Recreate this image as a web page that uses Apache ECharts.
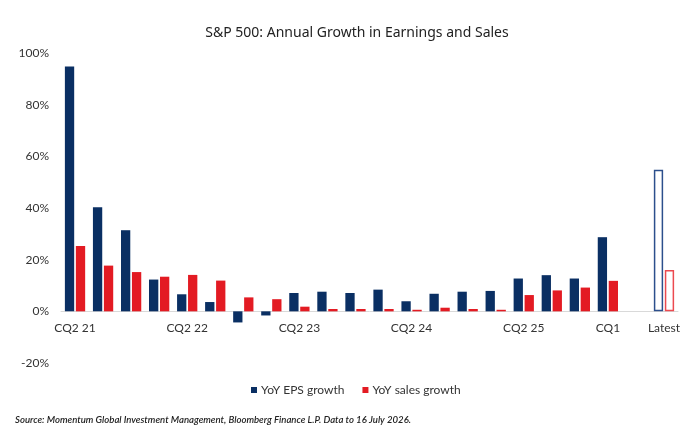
<!DOCTYPE html>
<html>
<head>
<meta charset="utf-8">
<script src="https://cdn.jsdelivr.net/npm/echarts@6/dist/echarts.min.js"></script>
<style>
  html, body { margin: 0; padding: 0; background: #fff; }
  #main { width: 700px; height: 435px; }
</style>
</head>
<body>
<div id="main"></div>
<script>
var categories = ['CQ2 21', 'CQ3 21', 'CQ4 21', 'CQ1 22', 'CQ2 22', 'CQ3 22', 'CQ4 22', 'CQ1 23',
  'CQ2 23', 'CQ3 23', 'CQ4 23', 'CQ1 24', 'CQ2 24', 'CQ3 24', 'CQ4 24', 'CQ1 25',
  'CQ2 25', 'CQ3 25', 'CQ4 25', 'CQ1 26', '', 'Latest'];
var tickLabels = ['CQ2 21', '', '', '', 'CQ2 22', '', '', '',
  'CQ2 23', '', '', '', 'CQ2 24', '', '', '',
  'CQ2 25', '', '', 'CQ1', '', 'Latest'];
var epsGrowth = [94.8, 40.3, 31.4, 12.3, 6.6, 3.6, -4.3, -1.6,
  7.1, 7.6, 7.1, 8.4, 3.9, 6.8, 7.6, 7.9,
  12.7, 14.0, 12.7, 28.7, null, 54.8];
var salesGrowth = [25.3, 17.7, 15.2, 13.4, 14.1, 11.9, 5.4, 4.7,
  1.8, 0.9, 0.9, 0.9, 0.6, 1.4, 0.9, 0.6,
  6.3, 8.1, 9.2, 11.8, null, 16.0];
var yTicks = { min: -20, max: 100, interval: 20 };

var navy = '#0a2f63';
var red = '#e31b23';

var gridTop = 53, gridBottom = 72;
var plotH = 435 - gridTop - gridBottom;
// move the category axis up so it sits on the 0% line
var zeroOffset = -plotH * (0 - yTicks.min) / (yTicks.max - yTicks.min);

// the "Latest" bars are drawn hollow
function withHollowLast(values, border) {
  return values.map(function (v, i) {
    if (categories[i] === 'Latest') {
      return { value: v, itemStyle: { color: '#fff', borderColor: border, borderWidth: 1.5 } };
    }
    return v;
  });
}

var myChart = echarts.init(document.getElementById('main'));

var option = {
  animation: false,
  textStyle: { fontFamily: 'Lato' },
  title: {
    text: 'S&P 500: Annual Growth in Earnings and Sales',
    left: 352, top: 21, textAlign: 'center',
    textStyle: { fontFamily: 'Noto Sans', fontSize: 14, fontWeight: 'normal', color: '#222' }
  },
  graphic: [{
    type: 'text', left: 15, top: 415,
    style: {
      text: 'Source: Momentum Global Investment Management, Bloomberg Finance L.P. Data to 16 July 2026.',
      font: 'italic 600 9.6px "Liberation Sans Narrow", Lato', fill: '#222'
    }
  }],
  legend: {
    data: ['YoY EPS growth', 'YoY sales growth'],
    left: 246, top: 379,
    icon: 'rect', itemWidth: 6, itemHeight: 6, itemGap: 18,
    textStyle: { fontSize: 12, color: '#333', padding: [0, 0, 0, -1] }
  },
  grid: { left: 61, right: 22, top: gridTop, bottom: gridBottom },
  xAxis: {
    type: 'category',
    data: categories,
    axisLine: { onZero: false, lineStyle: { color: '#d9d9d9' } },
    offset: zeroOffset,
    axisTick: { alignWithLabel: true, interval: 0, length: 5, lineStyle: { color: '#d9d9d9' } },
    axisLabel: {
      interval: 0, margin: 11, fontSize: 12, color: '#333',
      formatter: function (v, i) { return tickLabels[i]; }
    }
  },
  yAxis: {
    type: 'value',
    min: yTicks.min, max: yTicks.max, interval: yTicks.interval,
    splitLine: { show: false },
    axisLine: { show: false },
    axisTick: { show: false },
    axisLabel: { margin: 12, fontSize: 12, color: '#333', formatter: '{value}%' }
  },
  series: [
    {
      name: 'YoY EPS growth', type: 'bar',
      barWidth: 9.3, barGap: '18%',
      itemStyle: { color: navy },
      data: withHollowLast(epsGrowth, '#2c4f8c')
    },
    {
      name: 'YoY sales growth', type: 'bar',
      barWidth: 9.3, barGap: '18%',
      itemStyle: { color: red },
      data: withHollowLast(salesGrowth, '#ec4a50')
    }
  ]
};

myChart.setOption(option);
</script>
</body>
</html>
